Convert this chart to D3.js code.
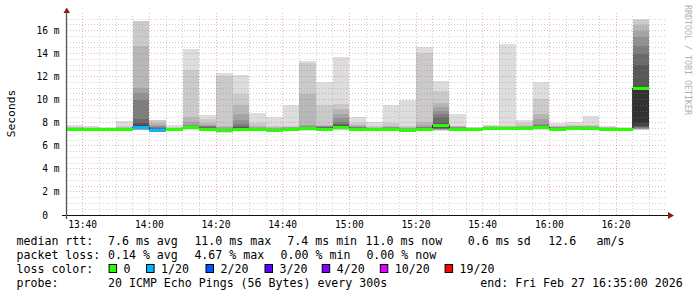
<!DOCTYPE html>
<html>
<head>
<meta charset="utf-8">
<script src="https://d3js.org/d3.v7.min.js"></script>
<style>
  body { margin: 0; background: #fff; }
  svg { display: block; }
  text { font-family: "DejaVu Sans Mono", monospace; fill: #000; }
</style>
</head>
<body>
<svg id="chart" width="697" height="297"></svg>
<script>
// 5 minute slots (start time of each slot)
const barTimes = ["13:35","13:40","13:45","13:50","13:55","14:00","14:05","14:10","14:15","14:20",
  "14:25","14:30","14:35","14:40","14:45","14:50","14:55","15:00","15:05","15:10",
  "15:15","15:20","15:25","15:30","15:35","15:40","15:45","15:50","15:55","16:00",
  "16:05","16:10","16:15","16:20","16:25"];

// median rtt per slot (ms)
const medians = [7.45,7.45,7.45,7.45,7.6,7.35,7.45,7.55,7.45,7.3,
  7.45,7.4,7.35,7.45,7.5,7.45,7.6,7.45,7.4,7.45,
  7.35,7.4,7.8,7.45,7.45,7.5,7.5,7.5,7.6,7.4,
  7.5,7.5,7.45,7.45,11.0];

// lost pings per slot (of 20)
const lossCounts = [0,0,0,0,1,1,0,0,0,0, 0,0,0,0,0,0,0,0,0,0, 0,0,0,0,0,0,0,0,0,0, 0,0,0,0,0];

// sorted ping rtts per slot (ms), null = lost
const pings = [
  [7.30,7.34,7.36,7.38,7.39,7.40,7.41,7.42,7.43,7.44,7.46,7.47,7.48,7.50,7.52,7.55,7.58,7.60,7.65,7.80],
  [7.30,7.34,7.36,7.38,7.39,7.40,7.41,7.42,7.43,7.44,7.46,7.47,7.48,7.49,7.50,7.52,7.54,7.56,7.60,7.70],
  [7.31,7.35,7.37,7.38,7.39,7.40,7.41,7.42,7.43,7.44,7.46,7.47,7.48,7.49,7.50,7.51,7.52,7.53,7.55,7.60],
  [7.30,7.34,7.36,7.38,7.39,7.40,7.41,7.42,7.43,7.44,7.46,7.47,7.48,7.50,7.52,7.55,7.58,7.62,7.70,8.15],
  [7.30,7.35,7.38,7.40,7.42,7.44,7.46,7.48,7.50,7.55,7.70,7.80,7.95,8.35,10.0,10.6,11.0,14.63,16.85,null],
  [7.20,7.22,7.25,7.27,7.28,7.29,7.30,7.31,7.32,7.33,7.40,7.45,7.50,7.55,7.60,7.70,7.80,8.00,8.25,null],
  [7.30,7.34,7.36,7.38,7.39,7.40,7.41,7.42,7.43,7.44,7.46,7.47,7.48,7.49,7.50,7.52,7.55,7.58,7.62,7.80],
  [7.38,7.42,7.45,7.46,7.47,7.48,7.49,7.50,7.51,7.53,7.57,7.60,7.65,7.70,7.75,7.85,8.04,8.47,12.60,14.43],
  [7.30,7.34,7.36,7.38,7.39,7.40,7.41,7.42,7.43,7.44,7.47,7.50,7.55,7.60,7.68,7.75,7.85,8.00,8.33,8.67],
  [7.15,7.18,7.20,7.21,7.22,7.23,7.24,7.25,7.26,7.28,7.32,7.34,7.36,7.40,7.45,7.50,7.60,7.75,12.10,12.30],
  [7.30,7.34,7.36,7.38,7.39,7.40,7.41,7.42,7.43,7.44,7.48,7.55,7.65,7.75,7.90,8.20,8.76,9.57,10.50,12.14],
  [7.25,7.28,7.30,7.32,7.33,7.34,7.35,7.36,7.37,7.38,7.41,7.43,7.45,7.48,7.52,7.58,7.65,7.75,8.00,8.87],
  [7.20,7.24,7.26,7.28,7.29,7.30,7.31,7.32,7.33,7.34,7.36,7.37,7.38,7.40,7.43,7.47,7.52,7.60,7.70,8.53],
  [7.30,7.34,7.36,7.38,7.39,7.40,7.41,7.42,7.43,7.44,7.46,7.47,7.48,7.50,7.52,7.55,7.60,7.65,7.75,9.57],
  [7.33,7.37,7.40,7.41,7.42,7.43,7.44,7.45,7.46,7.48,7.52,7.55,7.57,7.60,7.65,7.70,7.80,10.50,13.15,13.38],
  [7.30,7.34,7.36,7.38,7.39,7.40,7.41,7.42,7.43,7.44,7.47,7.50,7.55,7.60,7.65,7.70,7.75,7.85,9.50,11.50],
  [7.35,7.40,7.42,7.44,7.46,7.48,7.50,7.52,7.54,7.56,7.65,7.70,7.80,7.90,8.10,8.40,8.75,9.20,9.63,13.73],
  [7.30,7.34,7.36,7.38,7.39,7.40,7.41,7.42,7.43,7.44,7.48,7.50,7.52,7.55,7.60,7.65,7.70,7.80,8.00,8.53],
  [7.25,7.28,7.30,7.32,7.33,7.34,7.35,7.36,7.37,7.38,7.41,7.43,7.45,7.47,7.50,7.53,7.56,7.60,7.70,8.10],
  [7.30,7.34,7.36,7.38,7.39,7.40,7.41,7.42,7.43,7.44,7.46,7.48,7.50,7.53,7.56,7.60,7.65,7.75,7.95,9.50],
  [7.20,7.24,7.26,7.28,7.29,7.30,7.31,7.32,7.33,7.34,7.36,7.38,7.40,7.43,7.46,7.50,7.55,7.62,7.75,10.00],
  [7.25,7.28,7.30,7.32,7.33,7.34,7.35,7.36,7.37,7.38,7.42,7.45,7.50,7.55,7.60,7.65,7.80,8.04,14.05,14.60],
  [7.30,7.35,7.38,7.40,7.42,7.45,7.50,7.55,7.60,7.70,7.85,7.90,8.00,8.50,8.80,9.05,9.40,9.69,10.73,11.65],
  [7.30,7.34,7.36,7.38,7.39,7.40,7.41,7.42,7.43,7.44,7.46,7.48,7.50,7.53,7.56,7.60,7.65,7.70,7.75,8.76],
  [7.31,7.35,7.37,7.38,7.39,7.40,7.41,7.42,7.43,7.44,7.46,7.47,7.48,7.49,7.50,7.52,7.54,7.56,7.60,7.65],
  [7.35,7.38,7.40,7.42,7.43,7.44,7.45,7.46,7.47,7.49,7.51,7.53,7.55,7.57,7.60,7.63,7.66,7.70,7.75,7.80],
  [7.35,7.38,7.40,7.42,7.43,7.44,7.45,7.46,7.47,7.49,7.51,7.53,7.55,7.57,7.60,7.63,7.67,7.70,7.75,14.83],
  [7.35,7.38,7.40,7.42,7.43,7.44,7.45,7.46,7.47,7.49,7.51,7.53,7.55,7.58,7.61,7.65,7.70,7.75,8.00,8.24],
  [7.38,7.42,7.45,7.47,7.49,7.51,7.53,7.55,7.56,7.58,7.62,7.66,7.70,7.75,7.80,7.90,8.30,8.76,10.03,11.53],
  [7.25,7.28,7.30,7.32,7.33,7.34,7.35,7.36,7.37,7.38,7.42,7.45,7.48,7.52,7.56,7.60,7.65,7.70,7.75,7.95],
  [7.35,7.38,7.40,7.42,7.43,7.44,7.45,7.46,7.47,7.49,7.51,7.53,7.56,7.59,7.62,7.66,7.70,7.74,7.80,8.04],
  [7.35,7.38,7.40,7.42,7.43,7.44,7.45,7.46,7.47,7.49,7.51,7.53,7.55,7.58,7.61,7.65,7.70,7.75,7.85,8.62],
  [7.31,7.35,7.37,7.38,7.39,7.40,7.41,7.42,7.43,7.44,7.46,7.47,7.48,7.50,7.52,7.54,7.57,7.60,7.65,7.72],
  [7.31,7.35,7.37,7.38,7.39,7.40,7.41,7.42,7.43,7.44,7.46,7.47,7.48,7.49,7.50,7.51,7.53,7.55,7.58,7.65],
  [7.38,7.40,7.42,7.45,7.50,7.55,7.60,7.65,7.75,7.95,11.00,11.10,13.00,14.00,14.66,15.47,16.00,16.48,16.95,17.00]
];

const yTicks = [0, 2, 4, 6, 8, 10, 12, 14, 16];
const lossLevels = [0, 1, 2, 3, 4, 10, 19];
const lossLabels = ["0", "1/20", "2/20", "3/20", "4/20", "10/20", "19/20"];
const lossColors = ["#26ff00", "#00b8ff", "#0059ff", "#5e00ff", "#7e00ff", "#dd00ff", "#ff0000"];
const rttStats = ["7.6 ms avg", "11.0 ms max", "7.4 ms min", "11.0 ms now", "0.6 ms sd", "12.6", "am/s"];
const lossStats = ["0.14 % avg", "4.67 % max", "0.00 % min", "0.00 % now"];
const probeText = "20 ICMP Echo Pings (56 Bytes) every 300s";
const endText = "end: Fri Feb 27 16:35:00 2026";

const day = t => { const [h, m] = t.split(":"); return new Date(2026, 1, 27, +h, +m); };
const start = day("13:35"), end = day("16:35");

const svg = d3.select("#chart");
const x = d3.scaleTime().domain([start, end]).range([66, 666]);
const y = d3.scaleLinear().domain([0, 17.35]).range([215, 15]);

// smoke
const smoke = svg.append("g").attr("shape-rendering", "crispEdges");
pings.forEach((p, i) => {
  const t0 = day(barTimes[i]), t1 = d3.timeMinute.offset(t0, 5);
  for (let k = 1; k <= 10; k++) {
    const lo = p[k - 1], hi = p[20 - k];
    if (lo == null || hi == null) continue;
    const g = 19 * (10 - k) + 50;
    smoke.append("rect")
      .attr("x", x(t0)).attr("width", x(t1) - x(t0))
      .attr("y", y(hi)).attr("height", Math.max(0.5, y(lo) - y(hi)))
      .attr("fill", d3.rgb(g, g, g));
  }
});

// grid
const grid = svg.append("g").attr("shape-rendering", "crispEdges").attr("stroke-dasharray", "1,2");
const minorY = d3.range(0.5, 17.01, 0.5).filter(v => v % 2 !== 0);
const minutes = d3.timeMinute.every(5).range(d3.timeMinute.offset(start, 5), end);
grid.selectAll(".hmin").data(minorY).join("line")
  .attr("x1", 67).attr("x2", 666).attr("y1", d => y(d)).attr("y2", d => y(d))
  .attr("stroke", "#8f8f8f").attr("stroke-opacity", 0.4);
grid.selectAll(".vmin").data(minutes.filter(d => d.getMinutes() % 20 !== 0)).join("line")
  .attr("x1", d => x(d)).attr("x2", d => x(d)).attr("y1", 215).attr("y2", 15)
  .attr("stroke", "#8f8f8f").attr("stroke-opacity", 0.4);
grid.selectAll(".hmaj").data(yTicks.slice(1)).join("line")
  .attr("x1", 67).attr("x2", 666).attr("y1", d => y(d)).attr("y2", d => y(d))
  .attr("stroke", "#de5050").attr("stroke-opacity", 0.45);
grid.selectAll(".vmaj").data(minutes.filter(d => d.getMinutes() % 20 === 0)).join("line")
  .attr("x1", d => x(d)).attr("x2", d => x(d)).attr("y1", 215).attr("y2", 13)
  .attr("stroke", "#de5050").attr("stroke-opacity", 0.45);

// median: thin dark step line, then loss coloured band
const medPts = [];
medians.forEach((m, i) => {
  const t0 = day(barTimes[i]);
  medPts.push([t0, m], [d3.timeMinute.offset(t0, 5), m]);
});
svg.append("path")
  .attr("d", d3.line().x(d => x(d[0])).y(d => y(d[1]))(medPts))
  .attr("fill", "none").attr("stroke", "#202020").attr("stroke-width", 1);
const lossColor = n => lossColors[d3.bisectRight(lossLevels, n) - 1];
svg.append("g").attr("shape-rendering", "crispEdges")
  .selectAll("rect").data(medians).join("rect")
  .attr("x", (d, i) => x(day(barTimes[i])))
  .attr("width", (d, i) => x(d3.timeMinute.offset(day(barTimes[i]), 5)) - x(day(barTimes[i])))
  .attr("y", d => y(d) - 1.5).attr("height", 3)
  .attr("fill", (d, i) => lossColor(lossCounts[i]));

// axes
svg.append("line").attr("x1", 62).attr("x2", 669).attr("y1", 215.5).attr("y2", 215.5)
  .attr("stroke", "#111");
svg.append("line").attr("x1", 66.5).attr("x2", 66.5).attr("y1", 219).attr("y2", 12)
  .attr("stroke", "#555").attr("stroke-width", 1.3);
svg.append("path").attr("d", "M63.5,13L70,13L66.75,7.5Z").attr("fill", "#8b1a1a");
svg.append("path").attr("d", "M668,212L668,219L674,215.5Z").attr("fill", "#8b1a1a");

svg.append("g").selectAll("text").data(minutes.filter(d => d.getMinutes() % 20 === 0)).join("text")
  .attr("x", d => x(d)).attr("y", 228).attr("text-anchor", "middle")
  .style("font-size", "9.6px").text(d3.timeFormat("%H:%M"));
svg.append("g").selectAll("text").data(yTicks).join("text")
  .attr("x", d => d === 0 ? 48 : 59.5).attr("y", d => y(d) + 3.5).attr("text-anchor", "end")
  .style("font-size", "9.6px").text(d => d === 0 ? "0" : d + " m");

svg.append("text").attr("transform", "translate(15,113.5) rotate(-90)")
  .attr("text-anchor", "middle").style("font-size", "11.3px").text("Seconds");
svg.append("text").attr("transform", "translate(685,5) rotate(90)")
  .style("font-size", "8.3px").style("fill", "#b0b0b0").text("RRDTOOL / TOBI OETIKER");

// legend
const lx = 16.5, rows = [245, 259, 273, 287];
const leg = svg.append("g").style("font-size", "11.6px").style("white-space", "pre");
leg.append("text").attr("x", lx).attr("y", rows[0]).text("median rtt:");
const rttX = [108, 194.4, 287.3, 365.5, 467.8, 548.3, 596.5];
rttStats.forEach((s, i) => leg.append("text").attr("x", rttX[i]).attr("y", rows[0]).text(s));
leg.append("text").attr("x", lx).attr("y", rows[1]).text("packet loss:");
const lossX = [108, 194.4, 280.6, 366.4];
lossStats.forEach((s, i) => leg.append("text").attr("x", lossX[i]).attr("y", rows[1]).text(s));
leg.append("text").attr("x", lx).attr("y", rows[2]).text("loss color:");
const swX = [108.6, 146.1, 205.5, 264.5, 321.7, 379.8, 444.6];
lossLabels.forEach((s, i) => {
  leg.append("rect").attr("x", swX[i] + 0.5).attr("y", 264.5).attr("width", 7.5).attr("height", 8)
    .attr("fill", lossColors[i]).attr("stroke", "#000");
  leg.append("text").attr("x", swX[i] + 15).attr("y", rows[2]).text(s);
});
leg.append("text").attr("x", lx).attr("y", rows[3]).text("probe:");
leg.append("text").attr("x", 108).attr("y", rows[3]).text(probeText);
leg.append("text").attr("x", 480.3).attr("y", rows[3]).text(endText);
</script>
</body>
</html>
